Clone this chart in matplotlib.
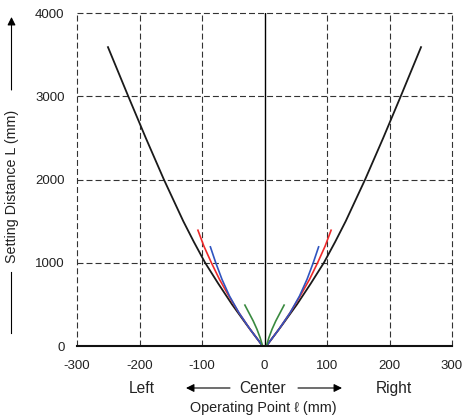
import matplotlib
matplotlib.use("Agg")
import matplotlib.pyplot as plt
import numpy as np

plt.rcParams['font.family'] = ['Liberation Sans', 'DejaVu Sans']
plt.rcParams['lines.scale_dashes'] = False

# Data (setting distance L in mm vs. operating point in mm)
black_L = [0, 250, 500, 750, 1000, 1250, 1500, 2000, 2500, 3000, 3600]
black_x = [3, 28, 52, 74, 95, 113, 130, 161, 190, 218, 251]
red_L = [0, 200, 400, 600, 800, 1000, 1200, 1400]
red_x = [3, 23, 41, 57, 72, 85, 97, 107]
blue_L = [0, 200, 400, 600, 800, 1000, 1200]
blue_x = [3, 23, 41, 56, 68, 78, 87]
green_L = [0, 100, 200, 300, 400, 500]
green_x = [3, 7, 12, 18, 25, 32]

x_ticks = [-300, -200, -100, 0, 100, 200, 300]
y_ticks = [0, 1000, 2000, 3000, 4000]

fig = plt.figure(figsize=(4.64, 4.19), dpi=100)
ax = fig.add_axes([77/464, 1-346/419, 375/464, 333/419])
ax.set_xlim(-300, 300)
ax.set_ylim(0, 4000)

grid_kw = dict(color='#333333', lw=0.8, dashes=(4.3, 2.2))
for gx in [-300, -200, -100, 100, 200, 300]:
    ax.axvline(gx, clip_on=False, **grid_kw)
for gy in [1000, 2000, 3000, 4000]:
    ax.axhline(gy, clip_on=False, **grid_kw)
ax.axvline(0, color='black', lw=1.0)

def curve(L, x, color, lw=1.2):
    L = np.asarray(L, float)
    x = np.asarray(x, float)
    ax.plot(-x, L, color=color, lw=lw, solid_capstyle='butt', solid_joinstyle='round')
    ax.plot(x, L, color=color, lw=lw, solid_capstyle='butt', solid_joinstyle='round')

curve(black_L, black_x, '#1a1a1a', 1.3)
curve(red_L, red_x, '#ee2a2a')
curve(blue_L, blue_x, '#2f54c0')
curve(green_L, green_x, '#3a8a40')

for s in ['left', 'right', 'top']:
    ax.spines[s].set_visible(False)
ax.spines['bottom'].set_linewidth(1.5)
ax.spines['bottom'].set_color('#111111')

ax.set_xticks(x_ticks)
ax.set_xticklabels([str(v) for v in x_ticks])
ax.set_yticks(y_ticks)
ax.set_yticklabels([str(v) for v in y_ticks])
ax.tick_params(axis='both', length=0, labelsize=9.5, colors='#222222')
ax.tick_params(axis='x', pad=10)
ax.tick_params(axis='y', pad=9)

# second row of x labels
fig.text(142/464, 1-388/419, 'Left', ha='center', va='center', fontsize=11.2, color='#222222')
fig.text(263/464, 1-388/419, 'Center', ha='center', va='center', fontsize=11.2, color='#222222')
fig.text(394/464, 1-388/419, 'Right', ha='center', va='center', fontsize=11.2, color='#222222')
arrow_kw = dict(arrowstyle='-|>', color='black', lw=0.8, mutation_scale=12, shrinkA=0, shrinkB=0)
fig.add_artist(matplotlib.patches.FancyArrowPatch((230/464, 1-388/419), (186/464, 1-388/419),
               transform=fig.transFigure, **arrow_kw))
fig.add_artist(matplotlib.patches.FancyArrowPatch((298/464, 1-388/419), (342/464, 1-388/419),
               transform=fig.transFigure, **arrow_kw))
fig.text(263/464, 1-408/419, 'Operating Point ℓ (mm)', ha='center', va='center', fontsize=10.4,
         color='#222222', family=['Liberation Sans', 'DejaVu Sans'])

# y axis label with arrow
fig.text(12/464, 1-186/419, 'Setting Distance L (mm)', rotation=90, ha='center', va='center',
         fontsize=10.3, color='#222222')
fig.add_artist(matplotlib.patches.FancyArrowPatch((11.5/464, 1-90/419), (11.5/464, 1-17/419),
               transform=fig.transFigure, **arrow_kw))
fig.add_artist(matplotlib.lines.Line2D([11.5/464, 11.5/464], [1-272/419, 1-333/419],
               transform=fig.transFigure, color='black', lw=0.8))

fig.savefig('out.png', dpi=100)
